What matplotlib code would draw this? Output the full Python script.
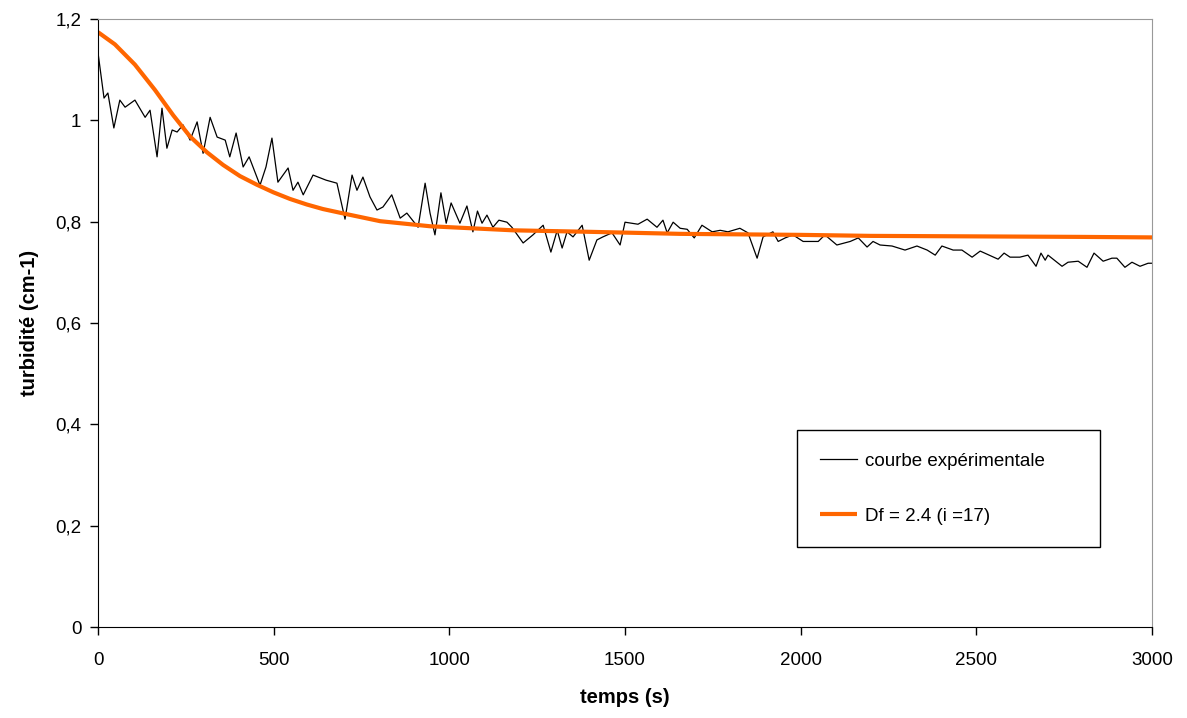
import matplotlib
matplotlib.use("Agg")
import matplotlib.pyplot as plt

plt.rcParams['font.family'] = ['Liberation Sans', 'DejaVu Sans']

# Experimental curve (time in s, turbidity in cm-1)
t_exp = [0, 17, 28, 45, 62, 77, 105, 134, 148, 168, 182, 196, 211, 225, 242, 262, 282, 299,
         319, 339, 362, 375, 393, 413, 430, 461, 478, 495, 512, 541, 555, 569, 584, 612, 649,
         680, 703, 723, 737, 754, 774, 794, 811, 836, 860, 879, 911, 931, 945, 959, 976, 991,
         1005, 1030, 1050, 1067, 1080, 1093, 1107, 1124, 1141, 1164, 1178, 1210, 1238, 1267,
         1289, 1307, 1321, 1335, 1352, 1378, 1398, 1420, 1437, 1463, 1486, 1500, 1537, 1563,
         1591, 1608, 1620, 1637, 1657, 1677, 1697, 1719, 1748, 1771, 1793, 1827, 1850, 1876,
         1893, 1921, 1936, 1956, 1978, 2007, 2050, 2069, 2103, 2141, 2164, 2189, 2206, 2226,
         2260, 2297, 2331, 2360, 2383, 2402, 2434, 2459, 2488, 2511, 2562, 2579, 2596, 2624,
         2647, 2670, 2684, 2696, 2704, 2744, 2761, 2790, 2815, 2835, 2861, 2886, 2900, 2923,
         2943, 2966, 2989, 3000]
y_exp = [1.133, 1.044, 1.054, 0.985, 1.040, 1.026, 1.040, 1.006, 1.020, 0.928, 1.024, 0.945,
         0.981, 0.977, 0.991, 0.961, 0.997, 0.935, 1.006, 0.967, 0.961, 0.928, 0.975, 0.908,
         0.928, 0.872, 0.908, 0.965, 0.878, 0.906, 0.862, 0.878, 0.853, 0.892, 0.882, 0.876,
         0.805, 0.892, 0.862, 0.888, 0.849, 0.823, 0.829, 0.853, 0.807, 0.817, 0.789, 0.876,
         0.817, 0.774, 0.857, 0.797, 0.837, 0.797, 0.831, 0.780, 0.821, 0.797, 0.813, 0.789,
         0.803, 0.799, 0.789, 0.758, 0.774, 0.793, 0.740, 0.783, 0.748, 0.780, 0.770, 0.793,
         0.724, 0.764, 0.770, 0.778, 0.754, 0.799, 0.795, 0.805, 0.789, 0.803, 0.778, 0.799,
         0.787, 0.785, 0.768, 0.793, 0.780, 0.783, 0.780, 0.787, 0.778, 0.728, 0.770, 0.780,
         0.761, 0.768, 0.774, 0.761, 0.761, 0.774, 0.754, 0.761, 0.768, 0.750, 0.761, 0.754,
         0.752, 0.744, 0.752, 0.744, 0.734, 0.752, 0.744, 0.744, 0.730, 0.742, 0.726, 0.738,
         0.730, 0.730, 0.734, 0.712, 0.738, 0.724, 0.734, 0.712, 0.720, 0.722, 0.710, 0.738,
         0.722, 0.728, 0.728, 0.710, 0.720, 0.712, 0.718, 0.718]

# Model curve Df = 2.4 (i = 17)
t_fit = [0, 48, 105, 162, 214, 262, 310, 356, 404, 452, 499, 546, 594, 640, 700, 803,
         945, 1181, 1400, 1657, 2000, 2200, 2500, 2800, 3000]
y_fit = [1.174, 1.150, 1.110, 1.060, 1.010, 0.968, 0.937, 0.912, 0.890, 0.873, 0.858, 0.845,
         0.834, 0.825, 0.816, 0.801, 0.791, 0.783, 0.780, 0.776, 0.774, 0.772, 0.771, 0.770,
         0.769]

x_ticks = [0, 500, 1000, 1500, 2000, 2500, 3000]
y_ticks = [0, 0.2, 0.4, 0.6, 0.8, 1.0, 1.2]
y_tick_labels = ['0', '0,2', '0,4', '0,6', '0,8', '1', '1,2']

fig = plt.figure(figsize=(11.87, 7.18), dpi=100)
ax = fig.add_axes([0.0826, 0.1267, 0.8879, 0.8468])

ax.plot(t_exp, y_exp, color='black', lw=0.9, label='courbe expérimentale')
ax.plot(t_fit, y_fit, color='#FF6600', lw=3.0, label='Df = 2.4 (i =17)',
        solid_capstyle='butt', solid_joinstyle='round')

ax.set_xlim(0, 3000)
ax.set_ylim(0, 1.2)
ax.set_xticks(x_ticks)
ax.set_xticklabels([str(v) for v in x_ticks])
ax.set_yticks(y_ticks)
ax.set_yticklabels(y_tick_labels)
ax.tick_params(labelsize=13.5, length=6, width=1, direction='out')
ax.tick_params(axis='x', pad=12)
ax.tick_params(axis='y', pad=6)

for s in ['top', 'right']:
    ax.spines[s].set_color('#999999')
for s in ['left', 'bottom']:
    ax.spines[s].set_color('black')

ax.set_xlabel('temps (s)', fontsize=14.5, fontweight='bold', labelpad=14)
ax.set_ylabel('turbidité (cm-1)', fontsize=14.5, fontweight='bold', labelpad=12)

leg = ax.legend(loc='upper left', bbox_to_anchor=(0.6545, 0.140, 0.305, 0.1988),
                mode='expand', fontsize=13.5,
                frameon=True, fancybox=False, edgecolor='black', framealpha=1,
                borderpad=1.2, labelspacing=2.0, handlelength=2.0, handletextpad=0.4)
leg.get_frame().set_linewidth(1.0)

fig.savefig('out.png', dpi=100)
